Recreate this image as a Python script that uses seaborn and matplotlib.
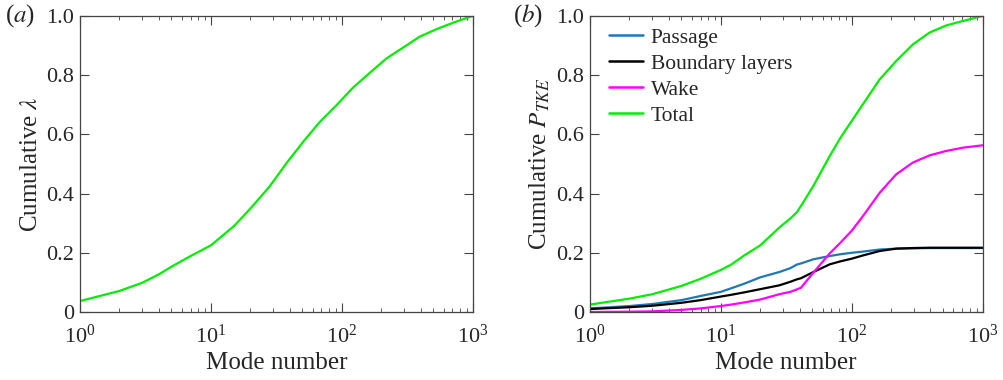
from matplotlib import pyplot as plt
from matplotlib.ticker import LogLocator, NullFormatter, FixedLocator
import seaborn as sns
import pandas as pd

# cumulative eigenvalue fraction, panel (a)
modes_a = [1, 2, 3, 4, 5, 7, 10, 15, 20, 28, 38, 51, 68, 91, 122, 164, 219, 294, 394, 528, 708, 1000]
cum_lambda = [0.037, 0.071, 0.099, 0.127, 0.153, 0.189, 0.225, 0.29, 0.349, 0.423, 0.504, 0.576,
              0.642, 0.698, 0.758, 0.808, 0.856, 0.893, 0.93, 0.955, 0.977, 1.0]

# cumulative TKE production, panel (b)
modes_b = [1, 2, 3, 5, 7, 10, 12, 15, 20, 28, 34, 38, 41, 51, 68, 82, 100, 122, 164, 219, 294, 394, 528, 708, 1000]
passage = [0.012, 0.02, 0.027, 0.04, 0.054, 0.068, 0.08, 0.095, 0.117, 0.135, 0.148, 0.16, 0.164, 0.178,
           0.189, 0.195, 0.2, 0.204, 0.211, 0.214, 0.215, 0.216, 0.216, 0.216, 0.216]
boundary = [0.01, 0.016, 0.021, 0.031, 0.04, 0.052, 0.058, 0.066, 0.077, 0.09, 0.102, 0.11, 0.114, 0.135,
            0.161, 0.171, 0.18, 0.191, 0.206, 0.214, 0.216, 0.217, 0.217, 0.217, 0.217]
wake = [0.0, 0.001, 0.002, 0.007, 0.012, 0.02, 0.025, 0.032, 0.042, 0.06, 0.068, 0.076, 0.082, 0.133,
        0.198, 0.234, 0.274, 0.324, 0.403, 0.465, 0.505, 0.529, 0.544, 0.555, 0.563]
total = [0.025, 0.045, 0.06, 0.088, 0.112, 0.142, 0.16, 0.19, 0.225, 0.285, 0.316, 0.336, 0.358, 0.426,
         0.527, 0.588, 0.645, 0.702, 0.786, 0.848, 0.904, 0.944, 0.968, 0.983, 1.0]

series_names = ["Passage", "Boundary layers", "Wake", "Total"]
series_colors = {"Passage": "#1f77b4", "Boundary layers": "#000000",
                 "Wake": "#ff00ff", "Total": "#00ee00"}

sns.set_theme(style="ticks")
plt.rcParams["font.family"] = ["Liberation Serif", "DejaVu Serif"]
plt.rcParams["mathtext.fontset"] = "stix"

df_a = pd.DataFrame({"mode": modes_a, "value": cum_lambda})
rows = []
for name, vals in zip(series_names, [passage, boundary, wake, total]):
    for m, v in zip(modes_b, vals):
        rows.append({"mode": m, "value": v, "region": name})
df_b = pd.DataFrame(rows)

fig = plt.figure(figsize=(10.04, 3.8), dpi=100)
ax_a = fig.add_axes([0.0797, 0.179, 0.391, 0.779])
ax_b = fig.add_axes([0.5876, 0.179, 0.391, 0.779])

sns.lineplot(data=df_a, x="mode", y="value", ax=ax_a, color=series_colors["Total"], linewidth=1.6)
sns.lineplot(data=df_b, x="mode", y="value", hue="region", hue_order=series_names,
             palette=series_colors, ax=ax_b, linewidth=1.6)

for ax in (ax_a, ax_b):
    ax.set_xscale("log")
    ax.set_xlim(1, 1000)
    ax.set_ylim(0, 1)
    ax.yaxis.set_major_locator(FixedLocator([0, 0.2, 0.4, 0.6, 0.8, 1.0]))
    ax.set_yticklabels(["0", "0.2", "0.4", "0.6", "0.8", "1.0"])
    ax.xaxis.set_major_locator(LogLocator(base=10, numticks=10))
    ax.xaxis.set_minor_locator(LogLocator(base=10, subs=range(2, 10), numticks=10))
    ax.xaxis.set_minor_formatter(NullFormatter())
    ax.tick_params(which="major", direction="in", length=6.5, width=0.8, top=True, right=True,
                   labelsize=16, color="#444444", pad=4)
    ax.tick_params(axis="x", which="major", pad=9)
    ax.tick_params(which="minor", direction="in", length=3, width=0.6, top=True, right=True,
                   color="#444444")
    for s in ax.spines.values():
        s.set_color("#444444")
        s.set_linewidth(0.9)
    ax.set_xlabel("Mode number", fontsize=18, labelpad=3)

ax_a.set_ylabel(r"Cumulative $\lambda$", fontsize=18, labelpad=3)
ax_b.set_ylabel(r"Cumulative $P_{TKE}$", fontsize=18, labelpad=3)

leg = ax_b.legend(loc="upper left", frameon=False, fontsize=15.5, handlelength=1.6,
                  handletextpad=0.35, labelspacing=0.28, borderaxespad=0.3,
                  bbox_to_anchor=(0.01, 1.012))
for line in leg.get_lines():
    line.set_linewidth(1.8)

fig.text(0.005, 0.958, r"($\it{a}$)", fontsize=18, va="center")
fig.text(0.511, 0.958, r"($\it{b}$)", fontsize=18, va="center")

fig.savefig("out.png", dpi=100)
